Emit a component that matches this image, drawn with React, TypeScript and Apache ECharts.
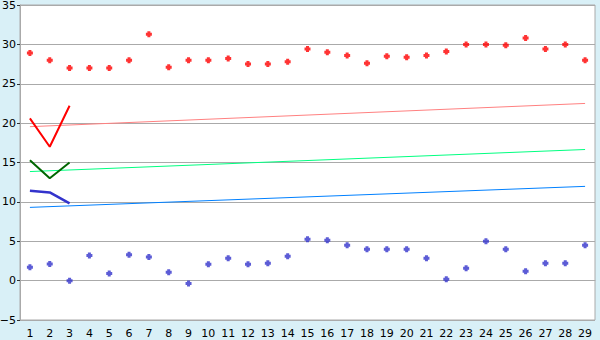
import React, { useEffect, useRef } from "react";
import * as echarts from "echarts";

const categories = Array.from({ length: 29 }, (_, i) => String(i + 1));
const yTicks = { min: -5, max: 35, interval: 5 };

const highValues = [28.9, 28.0, 27.0, 27.0, 27.0, 28.0, 31.3, 27.1, 28.0, 28.0, 28.2, 27.5, 27.5, 27.8, 29.4, 29.0, 28.6, 27.6, 28.5, 28.35, 28.6, 29.1, 30.0, 30.0, 29.9, 30.8, 29.4, 30.0, 28.0];
const lowValues = [1.7, 2.1, 0.0, 3.2, 0.9, 3.3, 3.0, 1.05, -0.35, 2.07, 2.83, 2.07, 2.2, 3.08, 5.24, 5.12, 4.48, 3.97, 3.97, 3.97, 2.83, 0.16, 1.56, 5.0, 3.97, 1.18, 2.2, 2.2, 4.48];

const redShort = [20.6, 17.0, 22.2];
const greenShort = [15.3, 13.0, 15.0];
const blueShort = [11.4, 11.2, 9.8];

const redTrend: [string, number][] = [["1", 19.55], ["29", 22.5]];
const greenTrend: [string, number][] = [["1", 13.85], ["29", 16.65]];
const blueTrend: [string, number][] = [["1", 9.3], ["29", 11.97]];

const marker = "path://M1.25,0H3.75V1.25H5V3.75H3.75V5H1.25V3.75H0V1.25H1.25Z";

export default function App() {
  const ref = useRef<HTMLDivElement>(null);
  useEffect(() => {
    if (!ref.current) return;
    const chart = echarts.init(ref.current, null, { renderer: "svg" });
    const font = { fontFamily: "DejaVu Sans", fontSize: 11, color: "#000" };
    chart.setOption({
      animation: false,
      backgroundColor: "#d9f0f7",
      grid: {
        left: 20,
        right: 5,
        top: 5,
        bottom: 20,
        outerBoundsMode: "none",
        containLabel: false,
        show: true,
        backgroundColor: "#ffffff",
        borderColor: "#aaaaaa",
        borderWidth: 1,
      },
      xAxis: {
        type: "category",
        data: categories,
        boundaryGap: true,
        axisLine: { lineStyle: { color: "#aaaaaa" } },
        axisTick: { alignWithLabel: true, length: 5, lineStyle: { color: "#333" } },
        axisLabel: { ...font, interval: 0, margin: 8 },
        splitLine: { show: false },
      },
      yAxis: {
        type: "value",
        min: yTicks.min,
        max: yTicks.max,
        interval: yTicks.interval,
        axisLine: { show: true, lineStyle: { color: "#aaaaaa" } },
        axisTick: { show: true, length: 3, lineStyle: { color: "#333" } },
        axisLabel: { ...font, margin: 4, formatter: (v: number) => (v < 0 ? "\u2212" + Math.abs(v) : String(v)) },
        splitLine: { lineStyle: { color: "#aaaaaa", width: 1 } },
      },
      series: [
        { type: "line", data: redTrend, symbol: "none", lineStyle: { color: "#ff8080", width: 1 } },
        { type: "line", data: greenTrend, symbol: "none", lineStyle: { color: "#00ff80", width: 1 } },
        { type: "line", data: blueTrend, symbol: "none", lineStyle: { color: "#0080ff", width: 1 } },
        { type: "line", data: redShort, symbol: "none", lineStyle: { color: "#ff0000", width: 2 } },
        { type: "line", data: greenShort, symbol: "none", lineStyle: { color: "#006600", width: 2 } },
        { type: "line", data: blueShort, symbol: "none", lineStyle: { color: "#3333cc", width: 2.5 } },
        { type: "scatter", data: highValues, symbol: marker, symbolSize: 6, itemStyle: { color: "#ff0000" } },
        { type: "scatter", data: lowValues, symbol: marker, symbolSize: 6, itemStyle: { color: "#3333cc" } },
      ],
    });
    return () => chart.dispose();
  }, []);
  return <div ref={ref} style={{ width: 600, height: 340, position: "absolute", left: 0, top: 0 }} />;
}
